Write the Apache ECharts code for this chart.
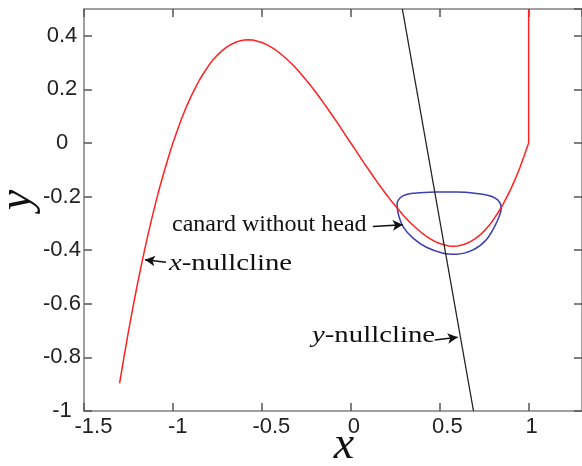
<!DOCTYPE html>
<html>
<head>
<meta charset="utf-8">
<script src="https://cdn.jsdelivr.net/npm/echarts@6/dist/echarts.min.js"></script>
<style>
html,body{margin:0;padding:0;background:#fff;}
#chart{width:582px;height:466px;}
</style>
</head>
<body>
<div id="chart"></div>
<script>
// x-nullcline (red cubic branch)
const xNullX = [-1.300,-1.275,-1.250,-1.225,-1.200,-1.175,-1.150,-1.125,-1.100,-1.075,-1.050,-1.025,-1.000,-0.975,-0.950,-0.925,-0.900,-0.875,-0.850,-0.825,-0.800,-0.775,-0.750,-0.725,-0.700,-0.675,-0.650,-0.625,-0.600,-0.575,-0.550,-0.525,-0.500,-0.475,-0.450,-0.425,-0.400,-0.375,-0.350,-0.325,-0.300,-0.275,-0.250,-0.225,-0.200,-0.175,-0.150,-0.125,-0.100,-0.075,-0.050,-0.025,0.000,0.025,0.050,0.075,0.100,0.125,0.150,0.175,0.200,0.225,0.250,0.275,0.300,0.325,0.350,0.375,0.400,0.425,0.450,0.475,0.500,0.525,0.550,0.575,0.600,0.625,0.650,0.675,0.700,0.725,0.750,0.775,0.800,0.825,0.850,0.875,0.900,0.925,0.950,0.975,1.000];
const xNullY = [-0.897,-0.798,-0.703,-0.613,-0.528,-0.447,-0.371,-0.299,-0.231,-0.167,-0.108,-0.052,0.000,0.048,0.093,0.134,0.171,0.205,0.236,0.263,0.288,0.310,0.328,0.344,0.357,0.367,0.375,0.381,0.384,0.385,0.384,0.380,0.375,0.368,0.359,0.348,0.336,0.322,0.307,0.291,0.273,0.254,0.234,0.214,0.192,0.170,0.147,0.123,0.099,0.075,0.050,0.025,0.000,-0.025,-0.050,-0.075,-0.099,-0.123,-0.147,-0.170,-0.192,-0.214,-0.234,-0.254,-0.273,-0.291,-0.307,-0.322,-0.336,-0.348,-0.359,-0.368,-0.375,-0.380,-0.384,-0.385,-0.384,-0.381,-0.375,-0.367,-0.357,-0.344,-0.328,-0.310,-0.288,-0.263,-0.236,-0.205,-0.171,-0.134,-0.093,-0.048,0.000];
// vertical part of the red nullcline at x = 1
const wallX = [1.00, 1.00];
const wallY = [0.00, 0.50];
// y-nullcline (black straight line)
const yNullX = [0.29, 0.69];
const yNullY = [0.50, -1.00];
// canard without head (blue closed orbit)
const canardX = [0.260,0.275,0.313,0.388,0.481,0.594,0.706,0.781,0.828,0.846,0.818,0.762,0.687,0.593,0.519,0.425,0.350,0.294,0.266,0.260];
const canardY = [-0.224,-0.206,-0.192,-0.186,-0.183,-0.183,-0.188,-0.197,-0.214,-0.243,-0.299,-0.361,-0.399,-0.415,-0.411,-0.389,-0.355,-0.312,-0.262,-0.224];
// annotation arrows: start -> tip (data coords)
const arrowFromX = [0.124, -1.039, 0.472];
const arrowFromY = [-0.312, -0.445, -0.735];
const arrowToX = [0.292, -1.157, 0.601];
const arrowToY = [-0.305, -0.436, -0.725];
// tick labels
const xTickLabels = ['-1.5', '-1', '-0.5', '0', '0.5', '1'];
const yTickLabels = ['-1', '-0.8', '-0.6', '-0.4', '-0.2', '0', '0.2', '0.4'];
// texts
const annoTexts = ['canard without head', '{i|x}-nullcline', '{i|y}-nullcline'];
const axisNames = ['x', 'y'];

const pairs = (xs, ys) => xs.map((v, i) => [v, ys[i]]);

const chart = echarts.init(document.getElementById('chart'), null, {renderer: 'canvas'});

const sansFont = '"Liberation Sans", Arial, sans-serif';
const serifFont = '"Liberation Serif", "Times New Roman", serif';
const axisLineStyle = {color: '#808080', width: 1.5};
const tickStyle = {color: '#555', width: 1.5};
const labelColor = '#222';
const labelSize = 22;

// x tick labels in the reference sit a quarter of their width to the right
const mctx = document.createElement('canvas').getContext('2d');
mctx.font = labelSize + 'px ' + sansFont;
const xRich = {};
xTickLabels.forEach((s, i) => {
  const w = mctx.measureText(s).width;
  xRich['k' + i] = {padding: [0, 0, 0, w / 2], fontSize: labelSize, fontFamily: sansFont, color: labelColor};
});
const fmt = v => String(Math.round(v * 10) / 10);

const arrows = arrowFromX.map((v, i) => [
  {coord: [v, arrowFromY[i]]},
  {coord: [arrowToX[i], arrowToY[i]]}
]);

chart.setOption({
  animation: false,
  backgroundColor: '#fff',
  grid: {left: 84, top: 9, right: -2, bottom: 55, containLabel: false},
  xAxis: [{
    type: 'value', position: 'bottom', min: -1.5, max: 1.3, interval: 0.5,
    axisLine: {show: true, onZero: false, lineStyle: axisLineStyle},
    axisTick: {show: true, inside: true, length: 8, lineStyle: tickStyle},
    axisLabel: {
      margin: 5, showMaxLabel: false, color: labelColor, fontSize: labelSize, fontFamily: sansFont,
      rich: xRich,
      formatter: v => { const s = fmt(v); const i = xTickLabels.indexOf(s); return i < 0 ? '' : '{k' + i + '|' + s + '}'; }
    },
    splitLine: {show: false}
  }, {
    type: 'value', position: 'top', min: -1.5, max: 1.3, interval: 0.5,
    axisLine: {show: true, onZero: false, lineStyle: axisLineStyle},
    axisTick: {show: true, inside: true, length: 8, lineStyle: tickStyle},
    axisLabel: {show: false},
    splitLine: {show: false}
  }],
  yAxis: [{
    type: 'value', position: 'left', min: -1, max: 0.5, interval: 0.2,
    axisLine: {show: true, onZero: false, lineStyle: axisLineStyle},
    axisTick: {show: true, inside: true, length: 8, lineStyle: tickStyle},
    axisLabel: {
      margin: 22, align: 'center', padding: [0, 0, 6, 0], showMaxLabel: false,
      color: labelColor, fontSize: labelSize, fontFamily: sansFont,
      formatter: v => { const s = fmt(v); return yTickLabels.indexOf(s) < 0 ? '' : s; }
    },
    splitLine: {show: false}
  }, {
    type: 'value', position: 'right', min: -1, max: 0.5, interval: 0.2,
    axisLine: {show: true, onZero: false, lineStyle: axisLineStyle},
    axisTick: {show: true, inside: true, length: 8, lineStyle: tickStyle},
    axisLabel: {show: false},
    splitLine: {show: false}
  }],
  series: [{
    name: 'canard', type: 'line', xAxisIndex: 0, yAxisIndex: 0,
    data: pairs(canardX, canardY), showSymbol: false, symbol: 'none', smooth: 0.35,
    lineStyle: {color: '#3d3db5', width: 1.5}, silent: true
  }, {
    name: 'x-nullcline', type: 'line', xAxisIndex: 0, yAxisIndex: 0,
    data: pairs(xNullX, xNullY), showSymbol: false, symbol: 'none', smooth: false,
    lineStyle: {color: '#ff2020', width: 1.5}, silent: true
  }, {
    name: 'x-nullcline wall', type: 'line', xAxisIndex: 0, yAxisIndex: 0,
    data: pairs(wallX, wallY), showSymbol: false, symbol: 'none',
    lineStyle: {color: '#ff2020', width: 1.5}, silent: true
  }, {
    name: 'y-nullcline', type: 'line', xAxisIndex: 0, yAxisIndex: 0,
    data: pairs(yNullX, yNullY), showSymbol: false, symbol: 'none',
    lineStyle: {color: '#222', width: 1.3}, silent: true,
    markLine: {
      silent: true, symbol: ['none', 'arrow'], symbolSize: [8, 10],
      lineStyle: {color: '#111', width: 1.5, type: 'solid'},
      label: {show: false}, emphasis: {disabled: true},
      data: arrows
    }
  }],
  graphic: [{
    type: 'text', x: 172, y: 224.5,
    style: {text: annoTexts[0], font: '24px ' + serifFont, fill: '#111', align: 'left', verticalAlign: 'middle'}
  }, {
    type: 'text', x: 169, y: 264, scaleX: 1.2,
    style: {text: annoTexts[1], fontSize: 24, fontFamily: serifFont, fill: '#111', align: 'left', verticalAlign: 'middle',
      rich: {i: {fontSize: 24, fontFamily: serifFont, fontStyle: 'italic', fill: '#111'}}}
  }, {
    type: 'text', x: 312, y: 336, scaleX: 1.2,
    style: {text: annoTexts[2], fontSize: 24, fontFamily: serifFont, fill: '#111', align: 'left', verticalAlign: 'middle',
      rich: {i: {fontSize: 24, fontFamily: serifFont, fontStyle: 'italic', fill: '#111'}}}
  }, {
    type: 'text', x: 344, y: 445.5,
    style: {text: axisNames[0], font: 'italic 46px ' + serifFont, fill: '#111', align: 'center', verticalAlign: 'middle'}
  }, {
    type: 'text', x: 17.5, y: 200, rotation: Math.PI / 2,
    style: {text: axisNames[1], font: 'italic 46px ' + serifFont, fill: '#111', align: 'center', verticalAlign: 'middle'}
  }]
});
</script>
</body>
</html>
